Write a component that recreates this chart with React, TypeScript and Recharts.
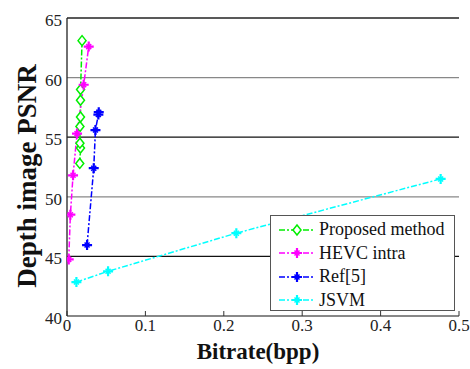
import { LineChart, Line, XAxis, YAxis, ReferenceLine, Legend } from "recharts";

const proposedRate = [0.0163, 0.0172, 0.0165, 0.0165, 0.0172, 0.0172, 0.0173, 0.0192];
const proposedPsnr = [52.8, 54.1, 54.5, 55.9, 56.7, 58.1, 59.0, 63.1];

const hevcRate = [0.0022, 0.0043, 0.0077, 0.0128, 0.0213, 0.0277];
const hevcPsnr = [44.75, 48.5, 51.8, 55.3, 59.4, 62.6];

const refRate = [0.0256, 0.0341, 0.0363, 0.04, 0.0405];
const refPsnr = [45.95, 52.4, 55.6, 56.9, 57.1];

const jsvmRate = [0.012, 0.0524, 0.216, 0.4766];
const jsvmPsnr = [42.85, 43.75, 46.95, 51.5];

const xTicks = [0, 0.1, 0.2, 0.3, 0.4, 0.5];
const yTicks = [40, 45, 50, 55, 60, 65];
const gridLevels = [45, 50, 55, 60, 65];
const gridColors = ["#111", "#888", "#111", "#888", "#222"];

const toPoints = (xs: number[], ys: number[]) => xs.map((x, i) => ({ x, y: ys[i] }));

const series = [
  { name: "Proposed method", color: "#00ee00", marker: "diamond", data: toPoints(proposedRate, proposedPsnr) },
  { name: "HEVC intra", color: "#ff00ff", marker: "plus", data: toPoints(hevcRate, hevcPsnr) },
  { name: "Ref[5]", color: "#0000ff", marker: "plus", data: toPoints(refRate, refPsnr) },
  { name: "JSVM", color: "#00ffff", marker: "plus", data: toPoints(jsvmRate, jsvmPsnr) },
];

const FONT = '"Liberation Serif", "Times New Roman", serif';
const DASH = "6 2 2 2";

function Marker({ cx, cy, color, type }: any) {
  if (cx == null || cy == null) return null;
  if (type === "diamond") {
    return (
      <path
        d={`M${cx},${cy - 5}L${cx + 4},${cy}L${cx},${cy + 5}L${cx - 4},${cy}Z`}
        fill="#fff"
        stroke={color}
        strokeWidth={1.5}
      />
    );
  }
  return (
    <g stroke={color}>
      <path d={`M${cx - 5},${cy}H${cx + 5}M${cx},${cy - 5}V${cy + 5}`} strokeWidth={2.2} />
      <path d={`M${cx - 2.5},${cy - 2.5}L${cx + 2.5},${cy + 2.5}M${cx - 2.5},${cy + 2.5}L${cx + 2.5},${cy - 2.5}`} strokeWidth={1.5} />
    </g>
  );
}

function XTick({ x, y, payload }: any) {
  return (
    <g>
      <line x1={x} y1={y} x2={x} y2={y - 5} stroke="#333" strokeWidth={1} />
      <text x={x} y={y + 15} textAnchor="middle" style={{ fontFamily: FONT }} fontSize={17} fill="#222">
        {payload.value}
      </text>
    </g>
  );
}

function YTick({ x, y, payload }: any) {
  return (
    <text x={x - 5} y={y + 8} textAnchor="end" style={{ fontFamily: FONT }} fontSize={17} fill="#222">
      {payload.value}
    </text>
  );
}

function LegendBox() {
  return (
    <div
      style={{
        border: "1px solid #555",
        background: "#fff",
        width: 183,
        height: 92,
        fontFamily: FONT,
        fontSize: 18,
        color: "#111",
        paddingTop: 2,
      }}
    >
      {series.map((s) => (
        <div key={s.name} style={{ display: "flex", alignItems: "center", height: 23.5 }}>
          <svg width={40} height={14} style={{ marginLeft: 6 }}>
            <line x1={2} y1={7} x2={38} y2={7} stroke={s.color} strokeWidth={1.5} strokeDasharray={DASH} />
            <Marker cx={20} cy={7} color={s.color} type={s.marker} />
          </svg>
          <span style={{ marginLeft: 2 }}>{s.name}</span>
        </div>
      ))}
    </div>
  );
}

export default function App() {
  return (
    <div style={{ position: "absolute", left: 0, top: 0, background: "#fff" }}>
      <LineChart width={470} height={369} margin={{ top: 18, right: 11, left: 0, bottom: 0 }}>
        {gridLevels.map((v, i) => (
          <ReferenceLine key={v} y={v} stroke={gridColors[i]} strokeWidth={1.3} />
        ))}
        <XAxis
          type="number"
          dataKey="x"
          domain={[0, 0.5]}
          ticks={xTicks}
          height={53}
          tickSize={0}
          tickMargin={0}
          tickLine={false}
          tick={<XTick />}
          axisLine={{ stroke: "#888", strokeWidth: 2 }}
          allowDataOverflow
          label={{
            content: () => (
              <text x={258} y={359} textAnchor="middle" style={{ fontFamily: FONT }} fontSize={23} fontWeight="bold" fill="#111">
                Bitrate(bpp)
              </text>
            ),
          }}
        />
        <YAxis
          type="number"
          dataKey="y"
          domain={[40, 65]}
          ticks={yTicks}
          width={67}
          tickSize={0}
          tickMargin={0}
          tickLine={false}
          tick={<YTick />}
          axisLine={{ stroke: "#222", strokeWidth: 1.3 }}
          allowDataOverflow
          label={{
            content: () => (
              <text
                x={0}
                y={0}
                transform="translate(36,176) rotate(-90)"
                textAnchor="middle"
                style={{ fontFamily: FONT }}
                fontSize={27}
                fontWeight="bold"
                fill="#111"
              >
                Depth image PSNR
              </text>
            ),
          }}
        />
        {series.map((s) => (
          <Line
            key={s.name}
            data={s.data}
            dataKey="y"
            name={s.name}
            stroke={s.color}
            strokeWidth={1.5}
            strokeDasharray={DASH}
            isAnimationActive={false}
            dot={(p: any) => <Marker key={`${s.name}-${p.index}`} cx={p.cx} cy={p.cy} color={s.color} type={s.marker} />}
            activeDot={false}
          />
        ))}
        <Legend
          layout="vertical"
          align="center"
          verticalAlign="middle"
          content={() => <LegendBox />}
          wrapperStyle={{ position: "absolute", left: 270, top: 215, width: 185, height: 96, bottom: "auto", right: "auto" }}
        />
      </LineChart>
    </div>
  );
}
